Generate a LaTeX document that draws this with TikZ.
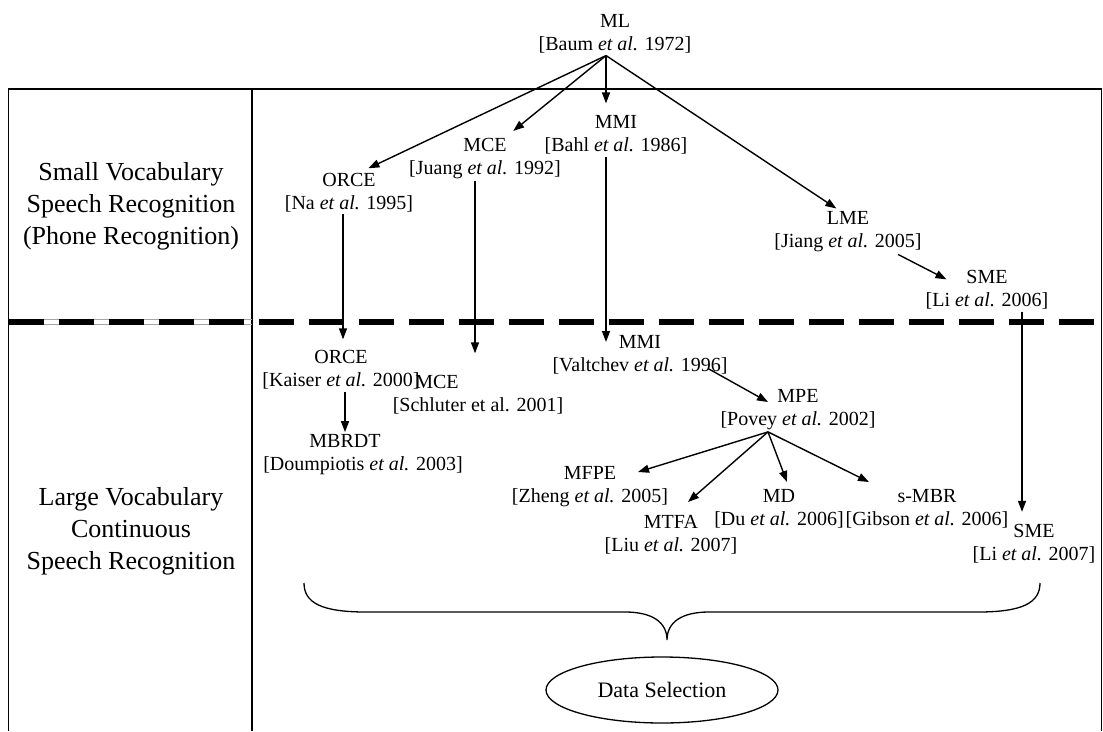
\documentclass[tikz,border=0pt]{standalone}
\usepackage{fontspec}
\setmainfont{Liberation Serif}
\usetikzlibrary{arrows.meta,shapes.geometric}
\begin{document}
\begin{tikzpicture}[x=1pt,y=-1pt,
  concept/.style={align=center,inner sep=2pt,font=\fontsize{20}{23}\selectfont},
  rowlabel/.style={align=center,inner sep=0pt,font=\fontsize{26}{32}\selectfont},
  link/.style={line width=1.4pt,-{Triangle[length=11pt,width=8pt]}},
  rule/.style={line width=1.5pt},
  sep/.style={line width=6pt,dash pattern=on 35pt off 15pt},
  ]
\useasboundingbox (0,0) rectangle (1103,731);

% table frame
\draw[rule] (8.5,731) -- (8.5,89) -- (1101.5,89) -- (1101.5,731);
\draw[rule] (252,89) -- (252,731);
\draw[gray!70,line width=0.8pt] (8.5,319.5) -- (252,319.5) (8.5,324) -- (252,324);
\draw[sep] (8.5,321.7) -- (1101.5,321.7);

% row labels
\node[rowlabel] (small) at (131,206) {Small Vocabulary\\Speech Recognition\\(Phone Recognition)};
\node[rowlabel] (large) at (131,531) {Large Vocabulary\\Continuous\\Speech Recognition};

% criteria
\node[concept] (ml)    at (615,34)    {ML\\{}[Baum \textit{et al.} 1972]};
\node[concept] (mmi1)  at (616,135)   {MMI\\{}[Bahl \textit{et al.} 1986]};
\node[concept] (mce1)  at (485,158.5) {MCE\\{}[Juang \textit{et al.} 1992]};
\node[concept] (orce1) at (349,192.5) {ORCE\\{}[Na \textit{et al.} 1995]};
\node[concept] (lme)   at (848,232)   {LME\\{}[Jiang \textit{et al.} 2005]};
\node[concept] (sme1)  at (987,290)   {SME\\{}[Li \textit{et al.} 2006]};
\node[concept] (orce2) at (341,370)   {ORCE\\{}[Kaiser \textit{et al.} 2000]};
\node[concept] (mce2)  at (478,395)   {MCE\hspace*{82pt}\\{}[Schluter et al. 2001]};
\node[concept] (mmi2)  at (640,354.5) {MMI\\{}[Valtchev \textit{et al.} 1996]};
\node[concept] (mbrdt) at (363,454.5) {MBRDT\hspace*{36pt}\\{}[Doumpiotis \textit{et al.} 2003]};
\node[concept] (mpe)   at (798,409.5) {MPE\\{}[Povey \textit{et al.} 2002]};
\node[concept] (mfpe)  at (590,487)   {MFPE\\{}[Zheng \textit{et al.} 2005]};
\node[concept] (mtfa)  at (671,535)   {MTFA\\{}[Liu \textit{et al.} 2007]};
\node[concept] (md)    at (779,508.5) {MD\\{}[Du \textit{et al.} 2006]};
\node[concept] (smbr)  at (927,508.5) {s-MBR\\{}[Gibson \textit{et al.} 2006]};
\node[concept] (sme2)  at (1034,543.5) {SME\\{}[Li \textit{et al.} 2007]};

% data selection
\node[ellipse,draw,line width=1.3pt,minimum width=232pt,minimum height=66pt,
      font=\fontsize{22}{25}\selectfont] (sel) at (662,690) {Data Selection};

% arrows from ML
\coordinate (mlfoot) at ([xshift=-9pt]ml.south);
\draw[link,shorten >=6pt] (mlfoot) -- ([xshift=14pt]orce1.north);
\draw[link,shorten >=8pt] (mlfoot) -- ([xshift=22pt]mce1.north);
\draw[link,shorten >=10pt] (mlfoot) -- (mlfoot |- mmi1.north);
\draw[link,shorten >=2pt] (mlfoot) -- ([xshift=-10pt]lme.north);
\draw[link] ([xshift=50pt]lme.south) -- ([xshift=23pt,yshift=-11pt]sme1.north west);

% small to large vocabulary
\draw[link,shorten >=9pt] ([xshift=-6pt]orce1.south) -- ([xshift=-6pt]orce1.south |- orce2.north);
\draw[link,shorten >=20pt] ([xshift=-10pt]mce1.south) -- ([xshift=-10pt]mce1.south |- mce2.north);
\draw[link,shorten >=12.5pt] (mlfoot |- mmi1.south) -- (mlfoot |- mmi2.west);
\draw[link,shorten >=10pt] ([xshift=35pt]sme1.south) -- ([xshift=35pt]sme1.south |- sme2.north);

% large vocabulary descendants
\draw[link] ([xshift=4pt]orce2.south) -- ([xshift=4pt]orce2.south |- mbrdt.north);
\draw[link] ([xshift=68pt,yshift=-14pt]mmi2.center) -- ([xshift=-30pt,yshift=7.5pt]mpe.center);
\coordinate (mpefoot) at ([xshift=-30pt]mpe.south);
\draw[link] (mpefoot) -- ([xshift=48pt,yshift=15pt]mfpe.center);
\draw[link] (mpefoot) -- ([xshift=17pt,yshift=33pt]mtfa.center);
\draw[link] (mpefoot) -- ([xshift=8pt,yshift=26.5pt]md.center);
\draw[link] (mpefoot) -- ([xshift=-58pt,yshift=26.5pt]smbr.center);

% brace over the large vocabulary methods
\draw[line width=1.3pt] (304,583) .. controls (304,603) and (322,612) .. (366,612)
  -- (625,612) .. controls (652,612) and (667,622) .. (667,640)
  .. controls (667,622) and (682,612) .. (709,612)
  -- (978,612) .. controls (1022,612) and (1040,603) .. (1040,583);
\end{tikzpicture}
\end{document}
